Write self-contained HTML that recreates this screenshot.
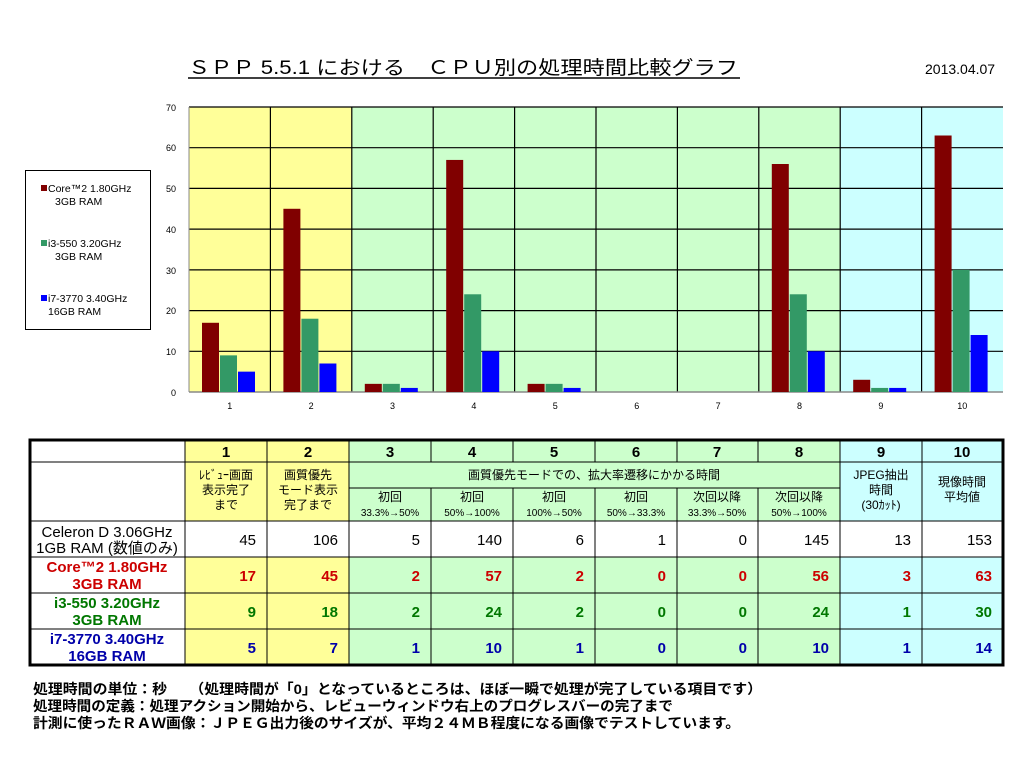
<!DOCTYPE html>
<html><head><meta charset="utf-8"><style>
body{margin:0;background:#fff;width:1024px;height:770px;overflow:hidden}
svg text{font-family:"Liberation Sans","Noto Sans CJK JP",sans-serif}
</style></head><body>
<svg width="1024" height="770" xmlns="http://www.w3.org/2000/svg">
<rect width="1024" height="770" fill="#fff"/>
<text x="188" y="74" font-size="19" textLength="550" lengthAdjust="spacingAndGlyphs">ＳＰＰ 5.5.1 における　ＣＰＵ別の処理時間比較グラフ</text>
<line x1="188" y1="78" x2="740" y2="78" stroke="#000" stroke-width="1.5"/>
<text x="925" y="74" font-size="14">2013.04.07</text>
<rect x="189" y="107" width="163" height="285" fill="#ffff99"/>
<rect x="352" y="107" width="488" height="285" fill="#ccffcc"/>
<rect x="840" y="107" width="163" height="285" fill="#ccffff"/>
<g stroke="#000" stroke-width="1.2">
<line x1="189" y1="107" x2="1003" y2="107"/>
<line x1="189" y1="147.7" x2="1003" y2="147.7"/>
<line x1="189" y1="188.4" x2="1003" y2="188.4"/>
<line x1="189" y1="229.1" x2="1003" y2="229.1"/>
<line x1="189" y1="269.9" x2="1003" y2="269.9"/>
<line x1="189" y1="310.6" x2="1003" y2="310.6"/>
<line x1="189" y1="351.3" x2="1003" y2="351.3"/>
<line x1="270.4" y1="107" x2="270.4" y2="392"/>
<line x1="351.8" y1="107" x2="351.8" y2="392"/>
<line x1="433.2" y1="107" x2="433.2" y2="392"/>
<line x1="514.6" y1="107" x2="514.6" y2="392"/>
<line x1="596" y1="107" x2="596" y2="392"/>
<line x1="677.4" y1="107" x2="677.4" y2="392"/>
<line x1="758.8" y1="107" x2="758.8" y2="392"/>
<line x1="840.2" y1="107" x2="840.2" y2="392"/>
<line x1="921.6" y1="107" x2="921.6" y2="392"/>
</g>
<line x1="189" y1="107" x2="189" y2="392" stroke="#888"/>
<line x1="189" y1="392" x2="1003" y2="392" stroke="#888" stroke-width="1.5"/>
<g transform="translate(0,392) scale(1,-4.0714)">
<g fill="#800000">
<rect x="202" y="0" width="17" height="17"/><rect x="283.4" y="0" width="17" height="45"/><rect x="364.8" y="0" width="17" height="2"/><rect x="446.2" y="0" width="17" height="57"/><rect x="527.6" y="0" width="17" height="2"/><rect x="771.8" y="0" width="17" height="56"/><rect x="853.2" y="0" width="17" height="3"/><rect x="934.6" y="0" width="17" height="63"/>
</g>
<g fill="#339966">
<rect x="220" y="0" width="17" height="9"/><rect x="301.4" y="0" width="17" height="18"/><rect x="382.8" y="0" width="17" height="2"/><rect x="464.2" y="0" width="17" height="24"/><rect x="545.6" y="0" width="17" height="2"/><rect x="789.8" y="0" width="17" height="24"/><rect x="871.2" y="0" width="17" height="1"/><rect x="952.6" y="0" width="17" height="30"/>
</g>
<g fill="#0000ff">
<rect x="238" y="0" width="17" height="5"/><rect x="319.4" y="0" width="17" height="7"/><rect x="400.8" y="0" width="17" height="1"/><rect x="482.2" y="0" width="17" height="10"/><rect x="563.6" y="0" width="17" height="1"/><rect x="807.8" y="0" width="17" height="10"/><rect x="889.2" y="0" width="17" height="1"/><rect x="970.6" y="0" width="17" height="14"/>
</g>
</g>
<g font-size="9" text-anchor="end">
<text x="176" y="111">70</text><text x="176" y="151">60</text><text x="176" y="192">50</text><text x="176" y="233">40</text><text x="176" y="274">30</text><text x="176" y="314">20</text><text x="176" y="355">10</text><text x="176" y="396">0</text>
</g>
<g font-size="9" text-anchor="middle">
<text x="229.7" y="409">1</text><text x="311.1" y="409">2</text><text x="392.5" y="409">3</text><text x="473.9" y="409">4</text><text x="555.3" y="409">5</text><text x="636.7" y="409">6</text><text x="718.1" y="409">7</text><text x="799.5" y="409">8</text><text x="880.9" y="409">9</text><text x="962.3" y="409">10</text>
</g>
<rect x="25.5" y="170.5" width="125" height="159" fill="#fff" stroke="#000"/>
<g font-size="10.5">
<rect x="41" y="185" width="6" height="6" fill="#800000"/><text x="48" y="192">Core™2 1.80GHz</text><text x="55" y="205">3GB  RAM</text>
<rect x="41" y="240" width="6" height="6" fill="#339966"/><text x="48" y="247">i3-550 3.20GHz</text><text x="55" y="260">3GB  RAM</text>
<rect x="41" y="295" width="6" height="6" fill="#0000ff"/><text x="48" y="302">i7-3770 3.40GHz</text><text x="48" y="315">16GB  RAM</text>
</g>
<rect x="185" y="440" width="164" height="225" fill="#ffff99"/>
<rect x="349" y="440" width="491" height="225" fill="#ccffcc"/>
<rect x="840" y="440" width="163" height="225" fill="#ccffff"/>
<rect x="30" y="521" width="973" height="36" fill="#fff"/>
<g stroke="#000" stroke-width="1">
<line x1="30" y1="462" x2="1003" y2="462"/>
<line x1="349" y1="488" x2="840" y2="488"/>
<line x1="30" y1="521" x2="1003" y2="521"/>
<line x1="30" y1="557" x2="1003" y2="557"/>
<line x1="30" y1="593" x2="1003" y2="593"/>
<line x1="30" y1="629" x2="1003" y2="629"/>
<line x1="185" y1="440" x2="185" y2="665"/>
<line x1="267" y1="440" x2="267" y2="665"/>
<line x1="349" y1="440" x2="349" y2="665"/>
<line x1="840" y1="440" x2="840" y2="665"/>
<line x1="922" y1="440" x2="922" y2="665"/>
<line x1="431" y1="440" x2="431" y2="462"/><line x1="431" y1="488" x2="431" y2="665"/>
<line x1="513" y1="440" x2="513" y2="462"/><line x1="513" y1="488" x2="513" y2="665"/>
<line x1="595" y1="440" x2="595" y2="462"/><line x1="595" y1="488" x2="595" y2="665"/>
<line x1="677" y1="440" x2="677" y2="462"/><line x1="677" y1="488" x2="677" y2="665"/>
<line x1="758" y1="440" x2="758" y2="462"/><line x1="758" y1="488" x2="758" y2="665"/>
</g>
<rect x="30" y="440" width="973" height="225" fill="none" stroke="#000" stroke-width="3"/>
<g font-size="15" font-weight="bold" text-anchor="middle">
<text x="226" y="457">1</text><text x="308" y="457">2</text><text x="390" y="457">3</text><text x="472" y="457">4</text><text x="554" y="457">5</text><text x="636" y="457">6</text><text x="717" y="457">7</text><text x="799" y="457">8</text><text x="881" y="457">9</text><text x="962" y="457">10</text>
</g>
<g font-size="12" text-anchor="middle">
<text x="226" y="479">ﾚﾋﾞｭｰ画面</text><text x="226" y="494">表示完了</text><text x="226" y="509">まで</text>
<text x="308" y="479">画質優先</text><text x="308" y="494">モード表示</text><text x="308" y="509">完了まで</text>
<text x="594" y="479">画質優先モードでの、拡大率遷移にかかる時間</text>
<text x="881" y="479">JPEG抽出</text><text x="881" y="494">時間</text><text x="881" y="509">(30ｶｯﾄ)</text>
<text x="962" y="486">現像時間</text><text x="962" y="501">平均値</text>
<text x="390" y="501">初回</text><text x="472" y="501">初回</text><text x="554" y="501">初回</text><text x="636" y="501">初回</text><text x="717" y="501">次回以降</text><text x="799" y="501">次回以降</text>
</g>
<g font-size="10" text-anchor="middle">
<text x="390" y="516">33.3%→50%</text><text x="472" y="516">50%→100%</text><text x="554" y="516">100%→50%</text><text x="636" y="516">50%→33.3%</text><text x="717" y="516">33.3%→50%</text><text x="799" y="516">50%→100%</text>
</g>
<g font-size="15" text-anchor="middle">
<text x="107" y="537">Celeron D  3.06GHz</text><text x="107" y="553">1GB RAM (数値のみ)</text>
</g>
<g font-size="15" text-anchor="end">
<text x="256" y="545">45</text><text x="338" y="545">106</text><text x="420" y="545">5</text><text x="502" y="545">140</text><text x="584" y="545">6</text><text x="666" y="545">1</text><text x="747" y="545">0</text><text x="829" y="545">145</text><text x="911" y="545">13</text><text x="992" y="545">153</text>
</g>
<g font-size="15" font-weight="bold">
<g fill="#cc0000" text-anchor="middle"><text x="107" y="572">Core™2 1.80GHz</text><text x="107" y="589">3GB  RAM</text></g>
<g fill="#007700" text-anchor="middle"><text x="107" y="608">i3-550 3.20GHz</text><text x="107" y="625">3GB  RAM</text></g>
<g fill="#0000aa" text-anchor="middle"><text x="107" y="644">i7-3770 3.40GHz</text><text x="107" y="661">16GB  RAM</text></g>
<g fill="#cc0000" text-anchor="end"><text x="256" y="581">17</text><text x="338" y="581">45</text><text x="420" y="581">2</text><text x="502" y="581">57</text><text x="584" y="581">2</text><text x="666" y="581">0</text><text x="747" y="581">0</text><text x="829" y="581">56</text><text x="911" y="581">3</text><text x="992" y="581">63</text></g>
<g fill="#007700" text-anchor="end"><text x="256" y="617">9</text><text x="338" y="617">18</text><text x="420" y="617">2</text><text x="502" y="617">24</text><text x="584" y="617">2</text><text x="666" y="617">0</text><text x="747" y="617">0</text><text x="829" y="617">24</text><text x="911" y="617">1</text><text x="992" y="617">30</text></g>
<g fill="#0000aa" text-anchor="end"><text x="256" y="653">5</text><text x="338" y="653">7</text><text x="420" y="653">1</text><text x="502" y="653">10</text><text x="584" y="653">1</text><text x="666" y="653">0</text><text x="747" y="653">0</text><text x="829" y="653">10</text><text x="911" y="653">1</text><text x="992" y="653">14</text></g>
</g>
<g font-size="14" font-weight="bold">
<text x="33" y="694" textLength="729" lengthAdjust="spacingAndGlyphs">処理時間の単位：秒　　（処理時間が「0」となっているところは、ほぼ一瞬で処理が完了している項目です）</text>
<text x="33" y="711" textLength="640" lengthAdjust="spacingAndGlyphs">処理時間の定義：処理アクション開始から、レビューウィンドウ右上のプログレスバーの完了まで</text>
<text x="33" y="728" textLength="707" lengthAdjust="spacingAndGlyphs">計測に使ったＲＡＷ画像：ＪＰＥＧ出力後のサイズが、平均２４ＭＢ程度になる画像でテストしています。</text>
</g>
</svg>
</body></html>
